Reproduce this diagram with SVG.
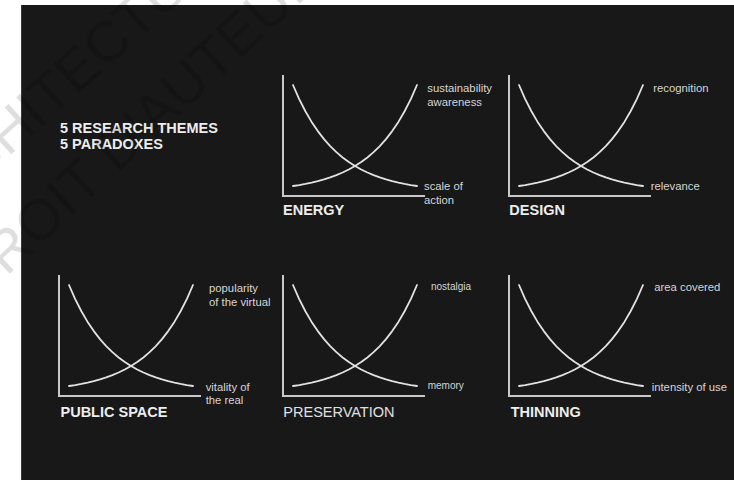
<svg xmlns="http://www.w3.org/2000/svg" xmlns:xlink="http://www.w3.org/1999/xlink" width="734" height="480" viewBox="0 0 734 480">
  <style>
    .title { font-family: "Liberation Sans", Arial, sans-serif; font-size: 14.5px; font-weight: bold; fill: #ededed; }
    .title-light { font-family: "Liberation Sans", Arial, sans-serif; font-size: 14.5px; font-weight: normal; fill: #e0e0e0; }
    .lbl { font-family: "Liberation Sans", Arial, sans-serif; font-size: 11.3px; fill: #d6d6d6; }
    .lbl-s { font-family: "Liberation Sans", Arial, sans-serif; font-size: 10px; fill: #d6d6d6; }
    .axis { fill: none; stroke: #c8c8c8; stroke-width: 2; }
    .curve { fill: none; stroke: #e2e2e2; stroke-width: 1.8; stroke-linejoin: round; stroke-linecap: round; }
    .wm { font-family: "Liberation Sans", Arial, sans-serif; font-size: 57px; fill: #000; fill-opacity: 0.13; }
  </style>
  <defs>
    <g id="pair">
      <path class="curve" d="M0,0 L6.2,14.05 L12.4,26.26 L18.6,36.88 L24.8,46.11 L31,54.14 L37.2,61.11 L43.4,67.18 L49.6,72.45 L55.8,77.04 L62,81.02 L68.2,84.49 L74.4,87.5 L80.6,90.12 L86.8,92.39 L93,94.37 L99.2,96.09 L105.4,97.59 L111.6,98.89 L117.8,100.02 L124,101"/>
      <path class="curve" d="M124,0 L117.8,14.05 L111.6,26.26 L105.4,36.88 L99.2,46.11 L93,54.14 L86.8,61.11 L80.6,67.18 L74.4,72.45 L68.2,77.04 L62,81.02 L55.8,84.49 L49.6,87.5 L43.4,90.12 L37.2,92.39 L31,94.37 L24.8,96.09 L18.6,97.59 L12.4,98.89 L6.2,100.02 L0,101"/>
    </g>
    <path id="axes" class="axis" d="M-10,-10 L-10,111 L132,111"/>
  </defs>

  <rect x="0" y="0" width="734" height="480" fill="#ffffff"/>
  <rect x="21" y="5" width="713" height="475" fill="#181818"/>
  <line x1="21.5" y1="5" x2="21.5" y2="480" stroke="#3a3a3a" stroke-width="1"/>

  <g id="heading">
    <text class="title" x="60" y="132.5">5 RESEARCH THEMES</text>
    <text class="title" x="60" y="149">5 PARADOXES</text>
  </g>

  <g id="connectors"></g>

  <g id="chart-energy" transform="translate(293,85)">
    <use href="#axes" xlink:href="#axes"/>
    <use href="#pair" xlink:href="#pair"/>
    <text class="title" x="-10" y="130.3">ENERGY</text>
    <text class="lbl" x="134.3" y="7.3">sustainability</text>
    <text class="lbl" x="134.3" y="20.7">awareness</text>
    <text class="lbl" x="131" y="105">scale of</text>
    <text class="lbl" x="131" y="119.3">action</text>
  </g>

  <g id="chart-design" transform="translate(519,85)">
    <use href="#axes" xlink:href="#axes"/>
    <use href="#pair" xlink:href="#pair"/>
    <text class="title" x="-9.7" y="130.3">DESIGN</text>
    <text class="lbl" x="134.3" y="6.7">recognition</text>
    <text class="lbl" x="131.7" y="105">relevance</text>
  </g>

  <g id="chart-public-space" transform="translate(69,285)">
    <use href="#axes" xlink:href="#axes"/>
    <use href="#pair" xlink:href="#pair"/>
    <text class="title" x="-8.5" y="131.7">PUBLIC SPACE</text>
    <text class="lbl" x="140" y="6.7">popularity</text>
    <text class="lbl" x="140" y="21">of the virtual</text>
    <text class="lbl" x="136.7" y="106">vitality of</text>
    <text class="lbl" x="136.7" y="119">the real</text>
  </g>

  <g id="chart-preservation" transform="translate(293,285)">
    <use href="#axes" xlink:href="#axes"/>
    <use href="#pair" xlink:href="#pair"/>
    <text class="title-light" x="-9.7" y="131.7">PRESERVATION</text>
    <text class="lbl-s" x="138" y="5">nostalgia</text>
    <text class="lbl-s" x="134.7" y="104">memory</text>
  </g>

  <g id="chart-thinning" transform="translate(519,285)">
    <use href="#axes" xlink:href="#axes"/>
    <use href="#pair" xlink:href="#pair"/>
    <text class="title" x="-8.3" y="131.7">THINNING</text>
    <text class="lbl" x="135.3" y="6">area covered</text>
    <text class="lbl" x="132.7" y="105.7">intensity of use</text>
  </g>

  <g id="watermark">
    <text class="wm" transform="translate(-81.6,238) rotate(-42)">ARCHITECTURE</text>
    <text class="wm" transform="translate(-23.6,305) rotate(-43)">DROIT D'AUTEUR</text>
  </g>
</svg>
